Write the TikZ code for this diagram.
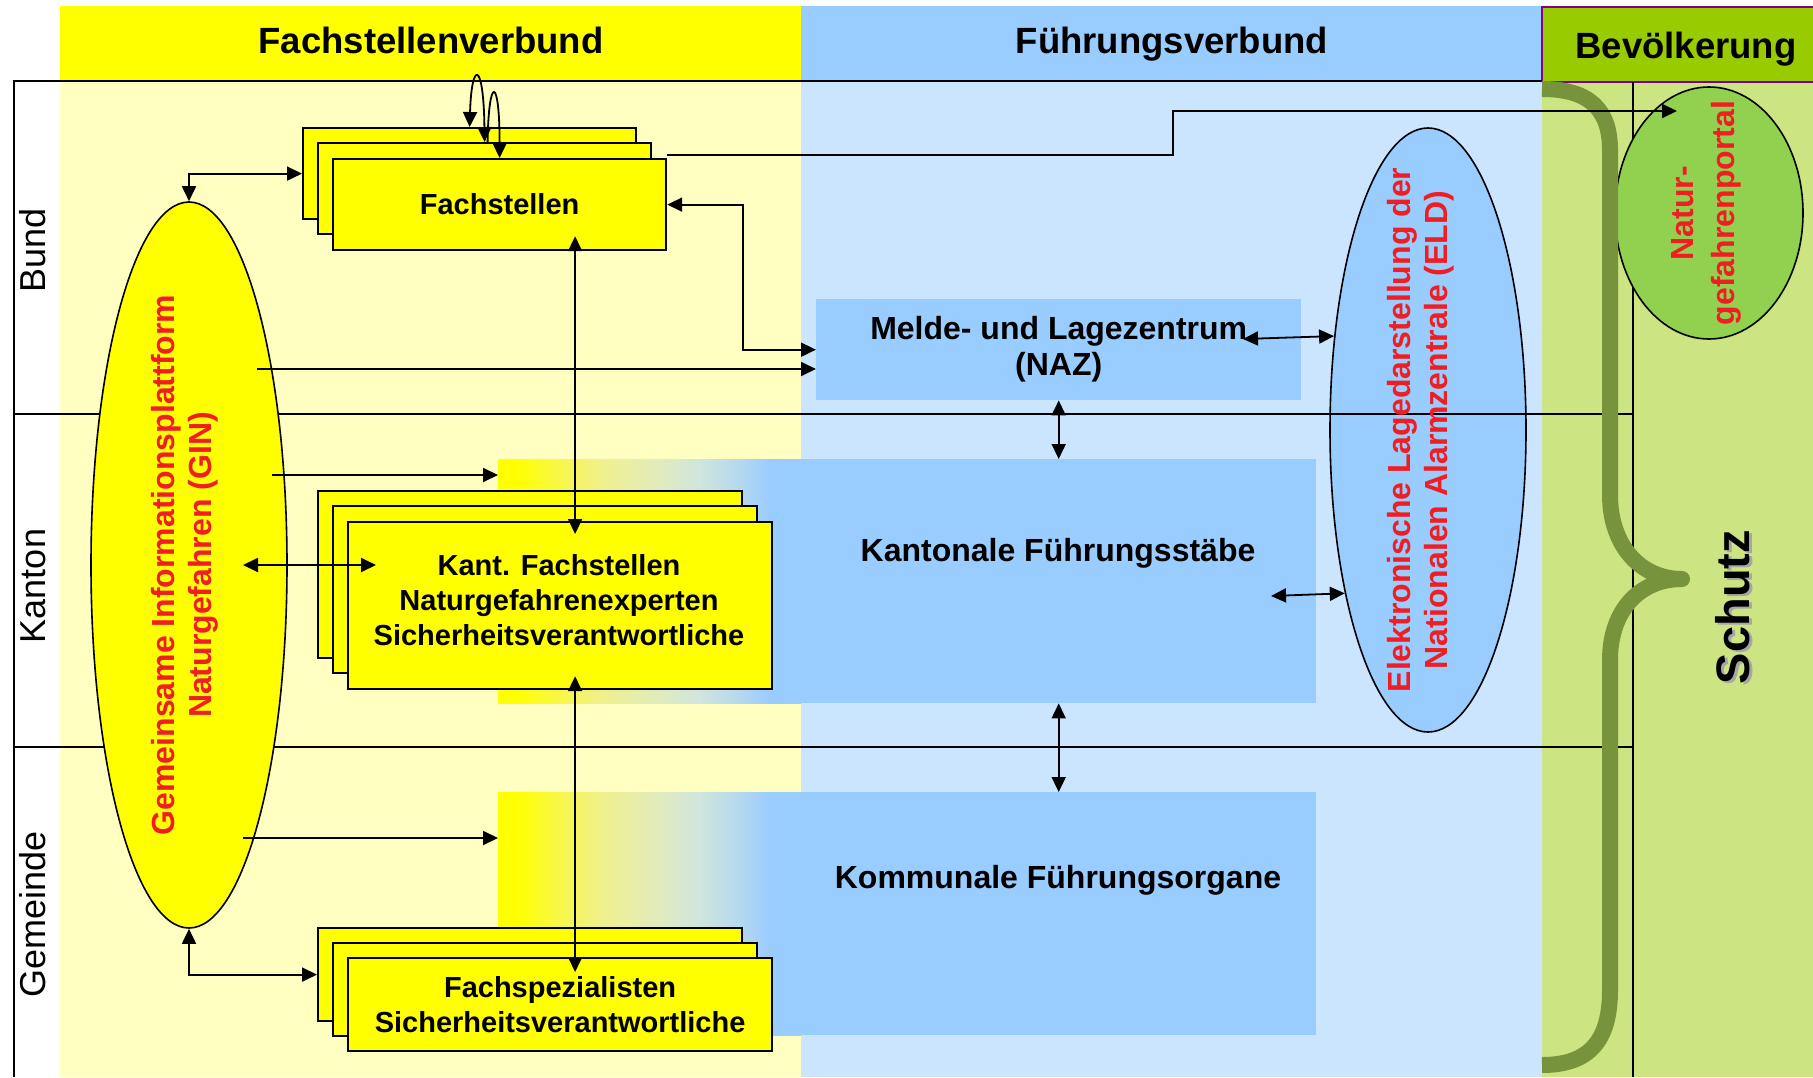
\documentclass[tikz,border=0pt]{standalone}
\usepackage{fontspec}
\setmainfont{Liberation Sans}
\usetikzlibrary{arrows.meta,shapes.geometric}
\definecolor{hdrY}{HTML}{FFFF00}
\definecolor{bodyY}{HTML}{FFFFC2}
\definecolor{hdrB}{HTML}{99CCFF}
\definecolor{bodyB}{HTML}{CCE5FF}
\definecolor{hdrG}{HTML}{99CC00}
\definecolor{bodyG}{HTML}{CCE482}
\definecolor{portalG}{HTML}{92D050}
\definecolor{braceG}{HTML}{77933C}
\definecolor{hdrP}{HTML}{800080}
\definecolor{redtxt}{HTML}{F01E23}
\definecolor{gA}{RGB}{240,240,140}
\definecolor{gB}{RGB}{224,235,192}
\definecolor{gC}{RGB}{208,230,220}
\definecolor{gD}{RGB}{180,216,240}
\pgfdeclarehorizontalshading{ygrad}{100bp}{color(0bp)=(hdrY); color(25bp)=(hdrY); color(28bp)=(hdrY); color(42bp)=(gA); color(52bp)=(gB); color(58bp)=(gC); color(65bp)=(gD); color(70bp)=(hdrB); color(100bp)=(hdrB)}
\newcommand\myhdrfont{\bfseries\fontsize{36.5}{43}\selectfont}
\newcommand\myrowfont{\fontsize{36}{43}\selectfont}
\newcommand\myboxfont{\bfseries\fontsize{29}{35}\selectfont}
\newcommand\myblufont{\bfseries\fontsize{32}{36}\selectfont}
\newcommand\myredfont{\bfseries\fontsize{32}{37}\selectfont}
\newcommand\myredfontb{\bfseries\fontsize{32}{41}\selectfont}
\newcommand\myschutzfont{\bfseries\fontsize{47}{56}\selectfont}
\begin{document}
\begin{tikzpicture}[x=1pt,y=-1pt,
  conn/.style={line width=1.8pt,-{Triangle[length=15pt,width=14pt]}},
  biconn/.style={line width=1.8pt,{Triangle[length=15pt,width=14pt]}-{Triangle[length=15pt,width=14pt]}},
  frameline/.style={line width=2pt},
  stackbox/.style={draw, line width=2.2pt, fill=hdrY, inner sep=0pt, anchor=north west, font=\myboxfont, align=center},
  bluebox/.style={fill=hdrB, inner sep=0pt, anchor=north west},
  rowlabel/.style={rotate=90, font=\myrowfont, inner sep=0pt},
  redlabel/.style={rotate=90, text=redtxt, font=\myredfont, align=center, inner sep=0pt},
  hdrlabel/.style={anchor=base, font=\myhdrfont, inner sep=0pt},
  oval/.style={ellipse, draw, line width=1.6pt, inner sep=0pt},
  bracestyle/.style={draw=braceG, line width=16pt, line join=round}
]
\useasboundingbox (0,0) rectangle (1813,1077);
\fill[white] (0,0) rectangle (1813,1077);
% headers
\fill[hdrY] (60,6) rectangle (801,81);
\fill[hdrB] (801,6) rectangle (1542,81);
\filldraw[fill=hdrG, draw=hdrP, line width=1.5pt] (1542,7) rectangle (1830,82);
% bodies
\fill[bodyY] (60,81) rectangle (801,1077);
\fill[bodyB] (801,81) rectangle (1542,1077);
\fill[bodyG] (1542,82.75) rectangle (1813,1077);
% ELD ellipse (lines drawn over it)
\node[oval, fill=hdrB, minimum width=196pt, minimum height=604pt] (eld) at (1428,430) {};
% frame lines
\draw[frameline] (14,1077) -- (14,81) -- (1542,81);
\draw[frameline] (14,414) -- (1633,414);
\draw[frameline] (14,747) -- (1633,747);
\draw[line width=1.5pt] (1633,82) -- (1633,1077);
% ellipses
\node[oval, fill=hdrY, minimum width=196pt, minimum height=726pt] (gin) at (189,565) {};
\node[oval, fill=portalG, minimum width=188pt, minimum height=252pt] (portal) at (1709,213) {};
% blue boxes and gradients
\node[bluebox, minimum width=485pt, minimum height=101pt, font=\myblufont, align=center] (melde) at (816,299) {Melde- und Lagezentrum\\(NAZ)};
\node[bluebox, minimum width=818pt, minimum height=244pt] (kgrad) at (498,459) {};
\shade[shading=ygrad] (kgrad.north west) rectangle ([xshift=303pt]kgrad.south west);
\node[bluebox, minimum width=818pt, minimum height=243pt] (kom) at (498,792) {};
\shade[shading=ygrad] (kom.north west) rectangle ([xshift=303pt]kom.south west);
\node[font=\myblufont] (kst) at (1058,553) {Kantonale Führungsstäbe};
\node[font=\myblufont] (kfo) at (1058,880) {Kommunale Führungsorgane};
% stacks
\node[stackbox, minimum width=333pt, minimum height=91pt] (fsA) at (302,127) {};
\node[stackbox, minimum width=333pt, minimum height=91pt] (fsB) at (317,142) {};
\node[stackbox, minimum width=333pt, minimum height=91pt] (fs) at (332,158) {Fachstellen};
\node[stackbox, minimum width=424pt, minimum height=167pt] (kfA) at (317,490) {};
\node[stackbox, minimum width=424pt, minimum height=167pt] (kfB) at (332,505) {};
\node[stackbox, minimum width=424pt, minimum height=167pt] (kf) at (347,521) {};
\node[font=\myboxfont, align=center, inner sep=0pt] (kftxt) at (559,600) {Kant. Fachstellen\\Naturgefahrenexperten\\Sicherheitsverantwortliche};
\node[stackbox, minimum width=424pt, minimum height=93pt] (spA) at (317,927) {};
\node[stackbox, minimum width=424pt, minimum height=93pt] (spB) at (332,942) {};
\node[stackbox, minimum width=424pt, minimum height=93pt] (sp) at (347,957) {Fachspezialisten\\Sicherheitsverantwortliche};
% red labels
\node[redlabel] (gintxt) at (185,565) {Gemeinsame Informationsplattform\\Naturgefahren (GIN)};
\node[redlabel] (eldtxt) at (1421,430) {Elektronische Lagedarstellung der\\Nationalen Alarmzentrale (ELD)};
\node[redlabel, font=\myredfontb] (portaltxt) at (1706,213) {Natur-\\gefahrenportal};
% row labels
\node[rowlabel] (bund) at (33,250) {Bund};
\node[rowlabel] (kanton) at (33,586) {Kanton};
\node[rowlabel] (gemeinde) at (33,914) {Gemeinde};
% headers text
\node[hdrlabel] (h1) at (431,53) {Fachstellenverbund};
\node[hdrlabel] (h2) at (1172,53) {Führungsverbund};
\node[hdrlabel] (h3) at (1686,58) {Bevölkerung};
% brace
\draw[bracestyle] (1542,89) .. controls (1590,89) and (1610,110) .. (1610,150) -- (1610,495)
  .. controls (1610,545) and (1640,579) .. (1682,579)
  .. controls (1640,579) and (1610,610) .. (1610,660) -- (1610,990)
  .. controls (1610,1040) and (1590,1065) .. (1542,1065);
\node[rotate=90, font=\myschutzfont, text=black!35, inner sep=0pt] (schutzsh) at (1736,609) {Schutz};
\node[rotate=90, font=\myschutzfont, inner sep=0pt] (schutz) at (1733,607) {Schutz};
% connectors
\draw[biconn] (fsA.north) .. controls +(2,-67) and +(-1,-82) .. (fsB.north);
\draw[conn] ([xshift=3pt]fsB.north) .. controls +(1,-67) and +(0,-83) .. (fs.north);
\draw[biconn] (gin.north) |- (fsA.west);
\draw[biconn] (fs.east) -- ++(76,0) |- (melde.west);
\coordinate (g1) at (257,369);
\draw[conn] (g1) -- (g1 -| melde.west);
\coordinate (p1) at (1677,111);
\draw[conn] ([yshift=3pt]fs.north east) -- ++(506,0) |- (p1);
\draw[biconn] ([xshift=75.5pt,yshift=15pt]fs.south) -- ([xshift=15pt,yshift=-13pt]kf.north);
\draw[biconn] ([xshift=15pt,yshift=14pt]kf.south) -- ([xshift=15pt,yshift=-15pt]sp.north);
\draw[biconn] ([xshift=54pt]gin.center) -- ++(133,0);
\coordinate (g3) at (272,475);
\draw[conn] (g3) -- (g3 -| kgrad.west);
\coordinate (g4) at (243,838);
\draw[conn] (g4) -- (g4 -| kom.west);
\draw[biconn] (gin.south) |- (spA.west);
\draw[biconn] (melde.south) -- (melde.south |- kgrad.north);
\draw[biconn] (melde.south |- kgrad.south) -- (melde.south |- kom.north);
\coordinate (m1) at (1243,339);
\draw[biconn] (m1) -- (eld.135.7);
\coordinate (m2) at (1271,596);
\draw[biconn] (m2) -- (eld.243.7);
\end{tikzpicture}
\end{document}
